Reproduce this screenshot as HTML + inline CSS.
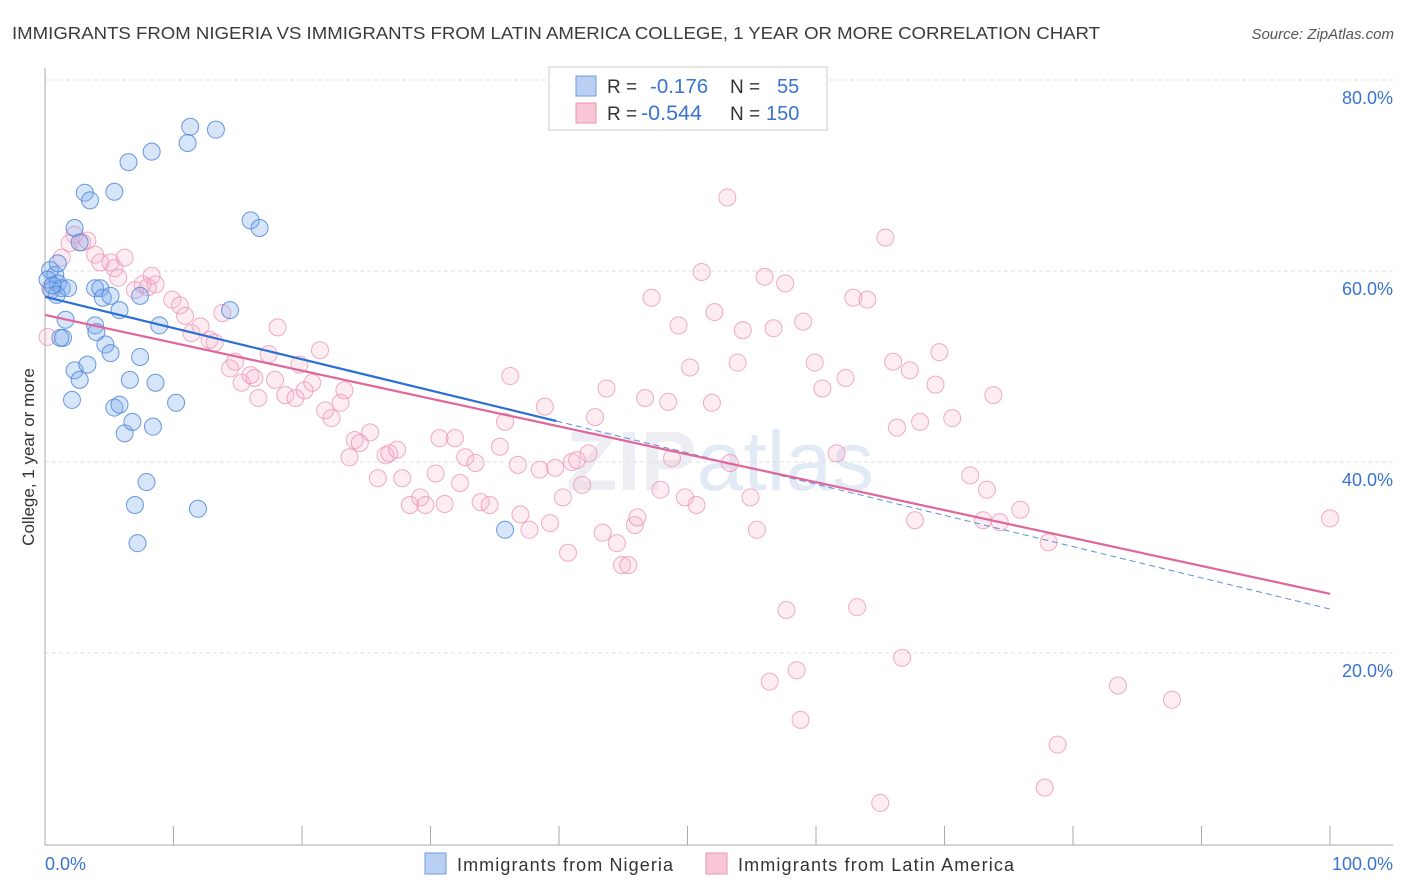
<!DOCTYPE html>
<html><head><meta charset="utf-8"><style>
body{margin:0;background:#fff;font-family:"Liberation Sans",sans-serif;}
svg{display:block}
</style></head><body>
<svg id="chart" width="1406" height="892" viewBox="0 0 1406 892" xmlns="http://www.w3.org/2000/svg">
<text x="12" y="39" font-size="17.5" fill="#3a3a3a" textLength="1088" lengthAdjust="spacingAndGlyphs">IMMIGRANTS FROM NIGERIA VS IMMIGRANTS FROM LATIN AMERICA COLLEGE, 1 YEAR OR MORE CORRELATION CHART</text>
<text x="1394" y="39" font-size="15" fill="#555" text-anchor="end" font-style="italic">Source: ZipAtlas.com</text>
<text x="720" y="490" font-size="84" fill="#e4e8ef" text-anchor="middle" font-weight="bold" opacity="0.7">ZIP<tspan font-weight="normal" fill="#d6e2f2">atlas</tspan></text>
<g id="grid"></g>
<g id="axes"></g>
<g id="pts"></g>
<g id="trend"></g>
<text transform="translate(34,457) rotate(-90)" font-size="17" fill="#333" text-anchor="middle">College, 1 year or more</text>
<g>
<rect x="549" y="67" width="278" height="63" fill="#fff" stroke="#ccc"/>
<rect x="576" y="76" width="20" height="20" fill="#b9d0f3" stroke="#6a9be0"/>
<rect x="576" y="103" width="20" height="20" fill="#f9c6d6" stroke="#ec93b1"/>
<text x="607" y="93" font-size="19" fill="#333">R = </text>
<text x="650" y="93" font-size="20.5" fill="#3a73d0">-0.176</text>
<text x="730" y="93" font-size="19" fill="#333">N = </text>
<text x="777" y="93" font-size="20" fill="#3a73d0">55</text>
<text x="607" y="120" font-size="19" fill="#333">R = </text>
<text x="641" y="120" font-size="21.5" fill="#3a73d0">-0.544</text>
<text x="730" y="120" font-size="19" fill="#333">N = </text>
<text x="766" y="120" font-size="20" fill="#3a73d0">150</text>
</g>
<g>
<rect x="425" y="853" width="21" height="21" fill="#b9d0f3" stroke="#6a9be0"/>
<text x="457" y="871" font-size="18" fill="#333" textLength="216">Immigrants from Nigeria</text>
</g>
<g>
<rect x="706" y="853" width="21" height="21" fill="#f9c6d6" stroke="#ec93b1"/>
<text x="738" y="871" font-size="18" fill="#333" textLength="276">Immigrants from Latin America</text>
</g>
</svg>
<script>
const yTicks=[20,40,60,80];
const yTickLabels=["20.0%","40.0%","60.0%","80.0%"];
const xTicks=[0,10,20,30,40,50,60,70,80,90,100];
const xTickLabels=["0.0%","100.0%"];
const blueX=[0.4,0.8,1.0,0.5,1.3,1.8,0.9,1.6,1.4,1.2,2.3,3.1,3.5,5.4,6.5,8.3,11.3,11.1,13.3,16.0,16.7,2.7,3.9,4.3,4.5,5.1,7.4,5.8,3.9,4.0,8.9,14.4,4.7,5.1,2.3,2.7,3.3,7.4,6.6,8.6,2.1,5.4,5.8,6.2,6.8,8.4,10.2,7.9,7.0,7.2,11.9,35.8,1.0,0.2,0.6];
const blueY=[60.1,59.6,58.7,58.0,58.2,58.2,57.5,54.9,53.0,53.0,64.5,68.2,67.4,68.3,71.4,72.5,75.1,73.4,74.8,65.3,64.5,63.0,58.2,58.2,57.2,57.4,57.4,55.9,54.3,53.6,54.3,55.9,52.3,51.4,49.6,48.6,50.2,51.0,48.6,48.3,46.5,45.7,46.0,43.0,44.2,43.7,46.2,37.9,35.5,31.5,35.1,32.9,60.8,59.1,58.5];
const pinkX=[0.2,1.3,2.3,1.9,2.9,3.3,3.9,4.3,5.1,5.4,6.2,5.7,7.0,8.0,8.3,7.6,8.6,9.9,10.5,10.9,11.4,12.1,12.8,13.2,13.8,14.4,14.8,15.3,16.0,16.6,16.3,17.4,18.1,17.9,18.7,19.5,19.8,20.2,20.8,21.4,21.8,22.3,23.0,23.3,23.7,24.1,24.5,25.3,25.9,26.5,26.8,27.4,27.8,28.4,29.2,29.6,30.4,30.7,31.1,31.9,32.3,32.7,33.5,33.9,34.6,35.4,35.8,36.2,36.8,37.0,37.7,38.5,38.9,39.3,39.7,40.3,40.7,41.0,41.4,41.8,42.3,42.8,43.4,43.7,44.5,44.9,45.4,45.9,46.1,46.7,47.2,47.9,48.5,48.8,49.3,49.8,50.2,50.7,51.1,51.9,52.1,53.1,53.3,53.9,54.3,54.9,55.4,56.0,56.7,57.6,57.7,56.4,58.5,58.8,59.0,59.9,60.5,62.3,61.6,62.9,63.2,64.0,65.0,65.4,66.0,66.3,66.7,67.3,67.7,68.1,69.3,69.6,70.6,72.0,73.0,73.3,73.8,74.3,75.9,78.1,78.8,77.8,83.5,87.7,100,0.4];
const pinkY=[53.1,61.4,63.8,62.9,63.0,63.2,61.7,60.9,60.9,60.3,61.4,59.3,58.0,58.3,59.5,58.6,58.6,57.0,56.4,55.3,53.5,54.2,52.8,52.5,55.6,49.8,50.5,48.3,49.1,46.7,48.8,51.3,54.1,48.6,47.0,46.7,50.2,47.5,48.3,51.7,45.4,44.6,46.2,47.5,40.5,42.3,42.0,43.1,38.3,40.7,40.9,41.3,38.3,35.5,36.3,35.5,38.8,42.5,35.6,42.5,37.8,40.5,39.9,35.8,35.5,41.6,44.2,49.0,39.7,34.5,32.9,39.2,45.8,33.6,39.4,36.3,30.5,40.0,40.2,37.6,40.9,44.7,32.6,47.7,31.5,29.2,29.2,33.4,34.2,46.7,57.2,37.1,46.3,40.4,54.3,36.3,49.9,35.5,59.9,46.2,55.7,67.7,39.9,50.4,53.8,36.3,32.9,59.4,54.0,58.7,24.5,17.0,18.2,13.0,54.7,50.4,47.7,48.8,40.9,57.2,24.8,57.0,4.3,63.5,50.5,43.6,19.5,49.6,33.9,44.2,48.1,51.5,44.6,38.6,33.9,37.1,47.0,33.7,35.0,31.6,10.4,5.9,16.6,15.1,34.1,58.2];
const blueTrend=[57.3,-0.327,39.8];
const pinkTrend=[55.4,-0.292,100];

const NS="http://www.w3.org/2000/svg";
const X=v=>45+v*12.85;
const Y=v=>844-v*9.55;
function mk(tag,attrs,parent){const e=document.createElementNS(NS,tag);for(const k in attrs)e.setAttribute(k,attrs[k]);document.getElementById(parent).appendChild(e);return e;}
yTicks.forEach((t,i)=>{
 const l=mk('line',{x1:45,x2:1393,y1:Y(t),y2:Y(t),stroke:'#dde0e4','stroke-dasharray':'4,3'},'grid');
 
 
 const tx=mk('text',{x:1393,y:Y(t)+24,'font-size':18,fill:'#3a73d0','text-anchor':'end'},'grid');
 tx.textContent=yTickLabels[i];
 
 
});
const ax=mk('line',{x1:45,x2:1393,y1:845,y2:845,stroke:'#aaa'},'axes');


const ay=mk('line',{x1:45,x2:45,y1:68,y2:845,stroke:'#aaa'},'axes');


xTicks.forEach(t=>{
 const l=mk('line',{x1:X(t),x2:X(t),y1:826,y2:845,stroke:'#aaa'},'axes');
 
 
});
[[0,'start',45],[100,'end',1393]].forEach((d,i)=>{
 const tx=mk('text',{x:d[2],y:870,'font-size':18,fill:'#3a73d0','text-anchor':d[1]},'axes');
 tx.textContent=xTickLabels[i];
 
 
});
pinkX.forEach((v,i)=>{
 const c=mk('circle',{cx:X(v),cy:Y(pinkY[i]),r:8.5,fill:'rgba(246,175,200,0.22)',stroke:'rgba(236,150,182,0.8)','stroke-width':1},'pts');
 
 
});
blueX.forEach((v,i)=>{
 const c=mk('circle',{cx:X(v),cy:Y(blueY[i]),r:8.5,fill:'rgba(120,168,238,0.3)',stroke:'rgba(80,135,215,0.85)','stroke-width':1},'pts');
 
 
});
const bd=mk('line',{x1:X(blueTrend[2]),y1:Y(blueTrend[0]+blueTrend[1]*blueTrend[2]),x2:X(100),y2:Y(blueTrend[0]+blueTrend[1]*100),stroke:'#5b8fd9','stroke-width':1,'stroke-dasharray':'6,4'},'trend');


const pl=mk('line',{x1:X(0),y1:Y(pinkTrend[0]),x2:X(pinkTrend[2]),y2:Y(pinkTrend[0]+pinkTrend[1]*pinkTrend[2]),stroke:'#e0669a','stroke-width':2.2},'trend');


const bl=mk('line',{x1:X(0),y1:Y(blueTrend[0]),x2:X(blueTrend[2]),y2:Y(blueTrend[0]+blueTrend[1]*blueTrend[2]),stroke:'#2b6fd6','stroke-width':2.2},'trend');


</script>
</body></html>
